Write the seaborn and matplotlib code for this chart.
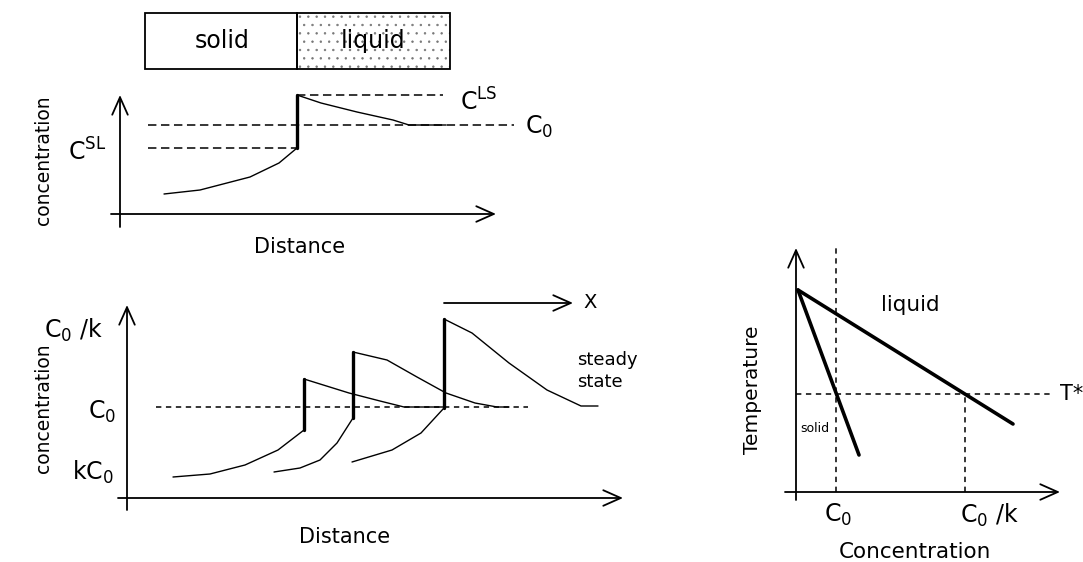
import numpy as np
import seaborn as sns
import matplotlib.pyplot as plt
from matplotlib.patches import Rectangle

# schematic values, in pixels measured from each panel's origin
# top panel: one interface profile
top_solid_x = [44, 80, 130, 159, 177]
top_solid_y = [20, 24, 37, 51, 66]
top_liquid_x = [177, 201, 237, 273, 289, 326]
top_liquid_y = [119, 111, 102, 94, 89, 89]
top_interface = 177
top_csl, top_cls, top_c0 = 66, 119, 89

# bottom panel: three profiles up to steady state
solid_x = [[46, 83, 118, 151, 177],
           [147, 173, 193, 210, 226],
           [225, 265, 294, 317]]
solid_y = [[21, 24, 33, 48, 68],
           [26, 30, 38, 55, 80],
           [36, 48, 65, 90]]
liquid_x = [[177, 222, 253, 277, 317],
            [226, 260, 290, 319, 348, 370, 382],
            [317, 345, 382, 420, 454, 471]]
liquid_y = [[119, 105, 97, 91, 91],
            [146, 138, 121, 105, 95, 91, 91],
            [179, 165, 135, 108, 92, 92]]
bottom_c0 = 91

# right panel: phase diagram
liquidus_x = [2, 217]
liquidus_y = [202, 68]
solidus_x = [2, 63]
solidus_y = [202, 37]
c0_x, c0k_x, t_star = 40, 169, 98

sns.set_style("white")
plt.rcParams['font.family'] = ['DejaVu Sans']
plt.rcParams['text.color'] = 'black'
plt.rcParams['hatch.linewidth'] = 0.5
plt.rcParams['hatch.color'] = '#777777'

W, H = 1083, 562
fig = plt.figure(figsize=(W / 100, H / 100), dpi=100)


def panel(x0, y0, x1, y1, ox, oy):
    # axes covering pixel box (x0,y0)-(x1,y1), data origin at pixel (ox, oy)
    ax = fig.add_axes([x0 / W, 1 - y1 / H, (x1 - x0) / W, (y1 - y0) / H])
    ax.set_xlim(x0 - ox, x1 - ox)
    ax.set_ylim(oy - y1, oy - y0)
    ax.axis('off')
    return ax


def arrow(ax, x0, y0, x1, y1):
    ax.annotate('', xy=(x1, y1), xytext=(x0, y0),
                arrowprops=dict(arrowstyle='->,head_length=0.9,head_width=0.4',
                                lw=1.3, color='black', shrinkA=0, shrinkB=0,
                                mutation_scale=14))


def curve(ax, xs, ys, lw=1.0):
    sns.lineplot(x=xs, y=ys, ax=ax, sort=False, estimator=None,
                 color='black', lw=lw)


# ---------------- top panel ----------------
ax = panel(0, 0, 570, 265, 120, 214)
ax.add_patch(Rectangle((25, 145), top_interface - 25, 56, fill=False, lw=1.3, ec='black'))
ax.add_patch(Rectangle((top_interface, 145), 330 - top_interface, 56, fill=False,
                       lw=0, ec='#777777', hatch='..'))
ax.add_patch(Rectangle((top_interface, 145), 330 - top_interface, 56, fill=False,
                       lw=1.3, ec='black'))
ax.text(102, 173, 'solid', fontsize=17, ha='center', va='center')
ax.text(253, 173, 'liquid', fontsize=17, ha='center', va='center')

arrow(ax, 0, -13, 0, 119)
arrow(ax, -9, 0, 376, 0)
dash_top = (0, (5.5, 3))
ax.plot([top_interface, 323], [top_cls, top_cls], color='black', lw=1.1, ls=dash_top)
ax.plot([28, 394], [top_c0, top_c0], color='black', lw=1.1, ls=dash_top)
ax.plot([28, top_interface], [top_csl, top_csl], color='black', lw=1.1, ls=dash_top)
curve(ax, top_solid_x, top_solid_y)
curve(ax, top_liquid_x, top_liquid_y)
curve(ax, [top_interface, top_interface], [top_csl, top_cls], lw=2.4)

ax.text(340, 112, r'C$^{\mathrm{LS}}$', fontsize=17, ha='left', va='center')
ax.text(405, 87, r'C$_0$', fontsize=17, ha='left', va='center')
ax.text(-52, 62, r'C$^{\mathrm{SL}}$', fontsize=17, ha='left', va='center')
ax.text(-77, 54, 'concentration', fontsize=13.5, rotation=90, ha='center', va='center')
ax.text(180, -33, 'Distance', fontsize=15, ha='center', va='center')

# ---------------- bottom-left panel ----------------
ax = panel(0, 270, 660, 562, 127, 498)
arrow(ax, 0, -12, 0, 193)
arrow(ax, -9, 0, 496, 0)
arrow(ax, 317, 195, 446, 195)
ax.text(456, 195, 'X', fontsize=14, ha='left', va='center')
ax.plot([29, 401], [bottom_c0, bottom_c0], color='black', lw=1.1, ls=(0, (3.5, 3)))
for sx, sy, lx, ly in zip(solid_x, solid_y, liquid_x, liquid_y):
    curve(ax, sx, sy)
    curve(ax, lx, ly)
    curve(ax, [sx[-1], lx[0]], [sy[-1], ly[0]], lw=2.4)

ax.text(-83, 168, r'C$_0$ /k', fontsize=17, ha='left', va='center')
ax.text(-39, 86, r'C$_0$', fontsize=17, ha='left', va='center')
ax.text(-55, 26, r'kC$_0$', fontsize=17, ha='left', va='center')
ax.text(-84, 90, 'concentration', fontsize=13.5, rotation=90, ha='center', va='center')
ax.text(218, -39, 'Distance', fontsize=15, ha='center', va='center')
ax.text(450, 127, 'steady\nstate', fontsize=13, ha='left', va='center', linespacing=1.3)

# ---------------- right panel ----------------
ax = panel(700, 230, 1083, 562, 796, 492)
arrow(ax, 0, -8, 0, 244)
arrow(ax, -11, 0, 264, 0)
dash_r = (0, (3.5, 3))
ax.plot([0, 254], [t_star, t_star], color='black', lw=1.1, ls=dash_r)
ax.plot([c0_x, c0_x], [0, 246], color='black', lw=1.1, ls=dash_r)
ax.plot([c0k_x, c0k_x], [0, t_star], color='black', lw=1.1, ls=dash_r)
curve(ax, liquidus_x, liquidus_y, lw=2.6)
curve(ax, solidus_x, solidus_y, lw=2.6)

ax.text(114, 187, 'liquid', fontsize=15.5, ha='center', va='center')
ax.text(19, 63, 'solid', fontsize=9, ha='center', va='center')
ax.text(264, 98, 'T*', fontsize=15, ha='left', va='center')
ax.text(c0_x + 2, -23, r'C$_0$', fontsize=17, ha='center', va='center')
ax.text(194, -23, r'C$_0$ /k', fontsize=17, ha='center', va='center')
ax.text(119, -60, 'Concentration', fontsize=15.5, ha='center', va='center')
ax.text(-44, 102, 'Temperature', fontsize=14.5, rotation=90, ha='center', va='center')

fig.savefig('out.png', dpi=100)
